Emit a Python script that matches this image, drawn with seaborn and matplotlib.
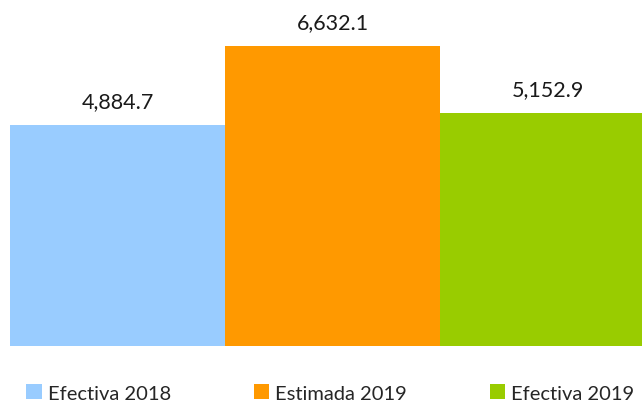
import matplotlib
matplotlib.use("Agg")
import matplotlib.pyplot as plt
import seaborn as sns
import pandas as pd

categorias = ["Efectiva 2018", "Estimada 2019", "Efectiva 2019"]
valores = [4884.7, 6632.1, 5152.9]
colores = ["#99CCFF", "#FF9900", "#99CC00"]

sns.set_style("white")
plt.rcParams["font.family"] = ["Lato", "DejaVu Sans"]

df = pd.DataFrame({"cat": categorias, "val": valores})

fig = plt.figure(figsize=(6.42, 4.06), dpi=100)
# axes spans from x=10px to right edge, baseline at y=347px
ax = fig.add_axes([10 / 642, 1 - 347 / 406, 632 / 642, 347 / 406])

sns.barplot(data=df, x="cat", y="val", hue="cat", palette=colores,
            width=1.0, dodge=False, saturation=1, linewidth=0,
            legend=True, ax=ax)

ax.set_xlim(-0.5, -0.5 + 632 / 215)
ax.set_ylim(0, 347 / 0.04524)
ax.axhline(0, color="#d9d9d9", lw=1.5, zorder=0)

for i, v in enumerate(valores):
    ax.annotate(f"{v:,.1f}", (i, v), xytext=(0, 17), textcoords="offset points",
                ha="center", va="center", fontsize=15.5, color="#1a1a1a")

ax.set_axis_off()

sns.move_legend(ax, "center left", bbox_to_anchor=(26 / 642, 1 - 394 / 406),
                bbox_transform=fig.transFigure,
                ncol=3, frameon=False, title=None, fontsize=14.5,
                handlelength=0.78, handleheight=0.78, handletextpad=0.3,
                columnspacing=4.1, borderaxespad=0, borderpad=0)

fig.savefig("out.png", dpi=100)
